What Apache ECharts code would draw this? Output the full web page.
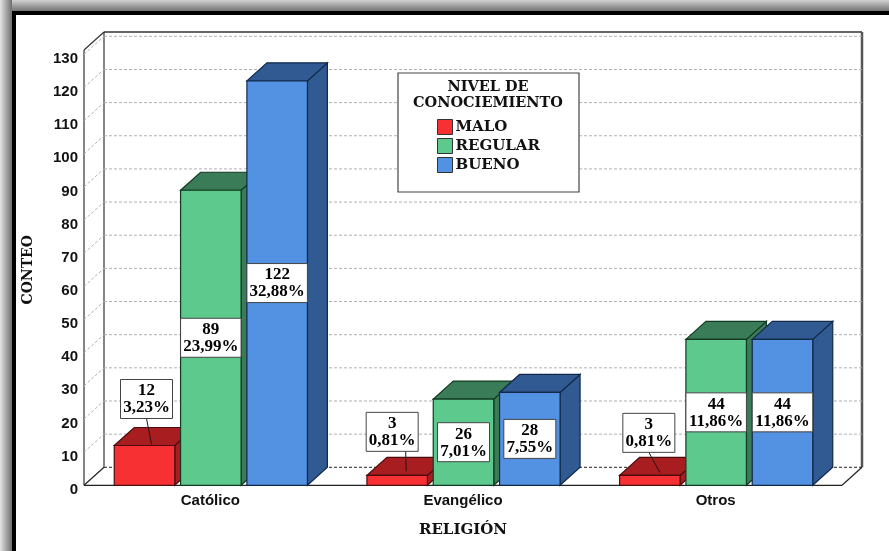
<!DOCTYPE html>
<html><head><meta charset="utf-8">
<script src="https://cdn.jsdelivr.net/npm/echarts@6/dist/echarts.min.js"></script>
<style>
html,body{margin:0;padding:0;background:#fff;overflow:hidden}
#shell{position:absolute;left:0;top:0;width:889px;height:551px;overflow:hidden;background:#fff}
#stripT{position:absolute;left:0;top:0;width:889px;height:11px;background:linear-gradient(to bottom,#d2d2d2,#727272)}
#stripL{position:absolute;left:0;top:0;width:12px;height:551px;background:linear-gradient(to right,#e4e4e4,#6e6e6e)}
#frame{position:absolute;left:12px;top:11px;width:900px;height:600px;border:4px solid #000;background:#fff}
#c{position:absolute;left:0;top:0;width:889px;height:551px}
</style></head><body>
<div id="shell"><div id="stripT"></div><div id="stripL"></div><div id="frame"></div><div id="c"></div></div>
<script>
const categories = ['Católico', 'Evangélico', 'Otros'];
const malo = [12, 3, 3];
const regular = [89, 26, 44];
const bueno = [122, 28, 44];
const maloPct = ['3,23%', '0,81%', '0,81%'];
const regularPct = ['23,99%', '7,01%', '11,86%'];
const buenoPct = ['32,88%', '7,55%', '11,86%'];
const yTicks = [0,10,20,30,40,50,60,70,80,90,100,110,120,130];
const wallTop = 131.3;

const DX = 20, DY = 18;
const SERIF = '"Liberation Serif",serif';
const WIDE_SERIF = '"DejaVu Serif",serif';
const SANS = '"Liberation Sans",Arial,sans-serif';
const calloutDx = [2, -5, -1], calloutGap = [27, 24, 23];
const leaderStartDx = [0, 13.5, 0], leaderEndDx = [7, 9, 10], leaderEndLift = [1, 4, 3];

function poly(pts, fill, stroke) {
  return {type:'polygon', shape:{points:pts}, style:{fill:fill, stroke:stroke, lineWidth:1.2}};
}
function line(a, b, stroke, w, dash) {
  return {type:'line', shape:{x1:a[0],y1:a[1],x2:b[0],y2:b[1]}, style:{stroke:stroke, lineWidth:w||1, lineDash:dash||null, fill:null}};
}
function labelBox(cx, cy, w, val, pct) {
  const h = 39;
  return [
    {type:'rect', shape:{x:cx-w/2, y:cy-h/2, width:w, height:h}, style:{fill:'#fff', stroke:'#444', lineWidth:1}},
    {type:'text', x:cx, y:cy+0.5, style:{text:val+'\n'+pct, fill:'#000', font:'bold 17px '+SERIF, align:'center', verticalAlign:'middle', lineHeight:17}}
  ];
}
function barSeries(name, values, pcts, slot, front, dark, edge, z) {
  return {
    name, type:'custom', z,
    itemStyle:{color:front, borderColor:'#222', borderWidth:1},
    encode:{x:0, y:1},
    data: values.map((v,i)=>[i, v, pcts[i]]),
    renderItem(params, api){
      const i = api.value(0), v = api.value(1);
      const base = api.coord([i, 0]), top = api.coord([i, v]);
      const band = api.size([1,0])[0];
      const w = band*0.2395, cx = base[0] + slot*band*0.2625 + 0.5;
      const l = cx-w/2, r = cx+w/2, t = top[1], b = base[1];
      const ch = [
        poly([[r,b],[r+DX,b-DY],[r+DX,t-DY],[r,t]], dark, edge),
        poly([[l,t],[r,t],[r+DX,t-DY],[l+DX,t-DY]], dark, edge),
        poly([[l,t],[r,t],[r,b],[l,b]], front, edge)
      ];
      const pct = pcts[i], bh = b-t;
      if (bh > 60) {
        ch.push(...labelBox(cx, (t+b)/2, pct.length>=6 ? w : 52, v, pct));
      } else {
        const boxCx = cx + calloutDx[i], boxB = t - calloutGap[i];
        ch.push(line([boxCx+leaderStartDx[i], boxB],[cx+leaderEndDx[i], t-leaderEndLift[i]], '#2a1010', 1));
        ch.push(...labelBox(boxCx, boxB-19.5, 52, v, pct));
      }
      return {type:'group', children:ch};
    }
  };
}
const wallSeries = {
  type:'custom', z:1, silent:true,
  data: yTicks.map(v=>[0, v]),
  encode:{x:0,y:1},
  renderItem(params, api){
    const v = api.value(1), cs = params.coordSys;
    const xL = cs.x, xR = cs.x+cs.width;
    const y = api.coord([0, v])[1];
    const g = '#b0b0b0', ch = [];
    if (v > 0) {
      ch.push(line([xL, y],[xL+DX, y-DY], g, 1, [3,2]));
      ch.push(line([xL+DX, y-DY],[xR+DX, y-DY], g, 1, [3,2]));
    } else {
      const yT = api.coord([0, wallTop])[1];
      ch.push(line([xL, y],[xL, yT], '#333', 1.2));
      ch.push(line([xL+DX, y-DY],[xL+DX, yT-DY], '#333', 1.2));
      ch.push(line([xL, yT],[xL+DX, yT-DY], '#333', 1.2));
      ch.push(line([xL+DX, yT-DY],[xR+DX, yT-DY], '#333', 1.5));
      ch.push(line([xR+DX, yT-DY],[xR+DX, y-DY], '#555', 2.5));
      ch.push(line([xL, y],[xL+DX, y-DY], '#222', 1.2));
      ch.push(line([xL, y],[xR, y], '#222', 1.2));
      ch.push(line([xR, y],[xR+DX, y-DY], '#222', 1.2));
      ch.push(line([xL+DX, y-DY],[xR+DX, y-DY], '#222', 1, [3,2]));
    }
    return {type:'group', children:ch};
  }
};
const chart = echarts.init(document.getElementById('c'), null, {renderer:'canvas', width:889, height:551});
chart.setOption({
  animation:false,
  backgroundColor:'transparent',
  grid:{left:84, top:54.3, width:758, height:431},
  xAxis:{
    type:'category', data:categories, axisTick:{show:false}, axisLine:{show:false}, splitLine:{show:false},
    axisLabel:{margin:8, color:'#111', fontFamily:SANS, fontWeight:'bold', fontSize:15},
    name:'RELIGIÓN', nameLocation:'middle', nameGap:37,
    nameTextStyle:{color:'#111', fontFamily:WIDE_SERIF, fontWeight:'bold', fontSize:15}
  },
  yAxis:{
    type:'value', min:0, max:130, interval:10,
    axisLine:{show:false}, axisTick:{show:false}, splitLine:{show:false},
    axisLabel:{margin:6, color:'#111', fontFamily:SANS, fontWeight:'bold', fontSize:15, verticalAlign:'top', lineHeight:9},
    name:'CONTEO', nameLocation:'middle', nameGap:49, nameRotate:90,
    nameTextStyle:{color:'#111', fontFamily:WIDE_SERIF, fontWeight:'bold', fontSize:14}
  },
  legend:{
    left:437, top:119, orient:'vertical', itemWidth:15, itemHeight:15, itemGap:3, padding:0, z:20,
    data:['MALO','REGULAR','BUENO'], selectedMode:false, icon:'rect',
    textStyle:{color:'#111', fontFamily:WIDE_SERIF, fontWeight:'bold', fontSize:15, padding:[0,0,0,-2]},
    itemStyle:{borderColor:'#333', borderWidth:1}
  },
  graphic:[
    {type:'rect', z:10, shape:{x:398, y:73, width:181, height:119}, style:{fill:'#fff', stroke:'#444', lineWidth:1.2}},
    {type:'text', z:11, x:488, y:87, style:{text:'NIVEL DE', fill:'#111', font:'bold 14.5px '+WIDE_SERIF, align:'center', verticalAlign:'middle'}},
    {type:'text', z:11, x:488, y:103, style:{text:'CONOCIEMIENTO', fill:'#111', font:'bold 14.5px '+WIDE_SERIF, align:'center', verticalAlign:'middle'}}
  ],
  series:[
    wallSeries,
    barSeries('MALO', malo, maloPct, -1, '#F73033', '#A81E20', '#4a0c0c', 2),
    barSeries('REGULAR', regular, regularPct, 0, '#5DC98D', '#3A7C57', '#123a22', 3),
    barSeries('BUENO', bueno, buenoPct, 1, '#5391E2', '#305A91', '#12294a', 4)
  ]
});
</script>
</body></html>
